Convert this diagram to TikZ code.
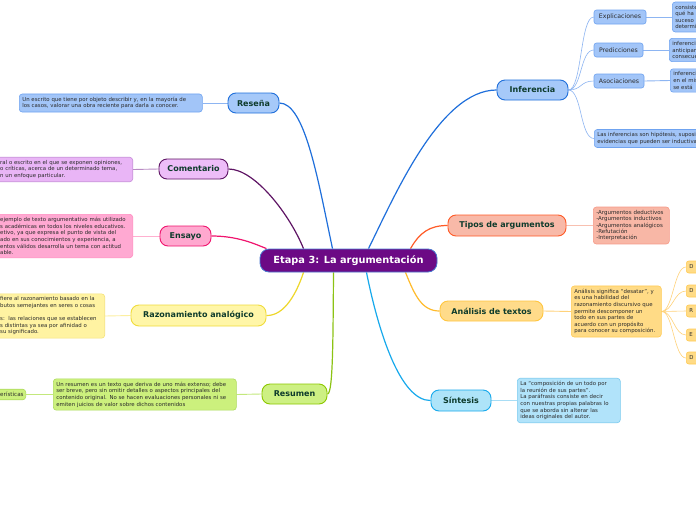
\documentclass[tikz,border=0pt]{standalone}
\usepackage{fontspec}
\setmainfont{DejaVu Sans}
\definecolor{centerfill}{HTML}{6C0A85}
\definecolor{centerdraw}{HTML}{4A78D0}
\definecolor{labtext}{HTML}{0E3B2C}
\definecolor{desctext}{HTML}{2B2B2B}
\definecolor{bluedraw}{HTML}{1F6FDB}
\definecolor{bluefill}{HTML}{A6C9F9}
\definecolor{bluesub}{HTML}{A2C5F8}
\definecolor{bluesubdraw}{HTML}{6FA3F0}
\definecolor{bluethin}{HTML}{8DB5F2}
\definecolor{purpledraw}{HTML}{5E1464}
\definecolor{purplefill}{HTML}{EDBDF8}
\definecolor{purplesub}{HTML}{E9B5F6}
\definecolor{purplesubdraw}{HTML}{C58AD8}
\definecolor{purplethin}{HTML}{B98CC4}
\definecolor{pinkdraw}{HTML}{F0146E}
\definecolor{pinkfill}{HTML}{FFA8CF}
\definecolor{pinksub}{HTML}{FFA9D2}
\definecolor{pinksubdraw}{HTML}{FF8CC0}
\definecolor{pinkthin}{HTML}{FFB0D0}
\definecolor{yellowdraw}{HTML}{EED72A}
\definecolor{yellowlab}{HTML}{F0DC3C}
\definecolor{yellowfill}{HTML}{FFF6A8}
\definecolor{yellowsub}{HTML}{FFF3A2}
\definecolor{yellowsubdraw}{HTML}{F5E27A}
\definecolor{yellowthin}{HTML}{FCEFA0}
\definecolor{greendraw}{HTML}{8CC314}
\definecolor{greenlab}{HTML}{8CC800}
\definecolor{greenfill}{HTML}{CDF083}
\definecolor{greensub}{HTML}{CCF07D}
\definecolor{greensubdraw}{HTML}{AEDB5E}
\definecolor{greenthin}{HTML}{C3E87C}
\definecolor{cyandraw}{HTML}{17A9EC}
\definecolor{cyanfill}{HTML}{AEE4F9}
\definecolor{cyansub}{HTML}{B1E3FA}
\definecolor{cyansubdraw}{HTML}{7CCBEF}
\definecolor{cyanthin}{HTML}{A8DDF5}
\definecolor{reddraw}{HTML}{FF5A26}
\definecolor{redfill}{HTML}{F8B9A8}
\definecolor{redsub}{HTML}{F8B7A6}
\definecolor{redsubdraw}{HTML}{F69A88}
\definecolor{redthin}{HTML}{F8C0B0}
\definecolor{orangedraw}{HTML}{FFBB2C}
\definecolor{orangelab}{HTML}{FFC640}
\definecolor{orangefill}{HTML}{FFDB8A}
\definecolor{orangesub}{HTML}{FFDB86}
\definecolor{orangesubdraw}{HTML}{FFCB55}
\definecolor{orangethin}{HTML}{FFD27A}
\pgfdeclarelayer{bg}
\pgfsetlayers{bg,main}
\begin{document}
\begin{tikzpicture}[x=1pt,y=-1pt,
  lab/.style={rounded corners=8pt, line width=0.9pt, inner sep=0pt,
    font=\bfseries\fontsize{8}{9}\selectfont, text=labtext},
  sublab/.style={rounded corners=2.5pt, line width=0.6pt, inner sep=0pt,
    font=\fontsize{6.2}{7}\selectfont, text=desctext},
  desc/.style={rounded corners=3pt, line width=0.6pt, inner sep=3pt, align=left,
    font=\fontsize{5.4}{6.6}\selectfont, text=desctext},
  anlab/.style={sublab, fill=orangesub, draw=orangesubdraw, anchor=west,
    minimum width=30pt, minimum height=12pt, align=left, text width=24pt,
    font=\fontsize{5.4}{6}\selectfont},
  br/.style={line width=1.2pt},
  tw/.style={line width=0.9pt},
  thin/.style={line width=0.6pt}]
\useasboundingbox (0,0) rectangle (696,520);
\begin{scope}
\clip (0,0) rectangle (696,520);
% centre
\node[lab, fill=centerfill, draw=centerdraw, line width=0.8pt, text=white,
  font=\bfseries\fontsize{9.8}{11}\selectfont, minimum width=177pt,
  minimum height=23pt, rounded corners=9pt] (center) at (348.5,260.5) {Etapa 3: La argumentación};
% Inferencia
\node[lab, fill=bluefill, draw=bluedraw, minimum width=71pt, minimum height=20pt] (inf) at (532.5,90) {Inferencia};
\node[sublab, fill=bluesub, draw=bluesubdraw, minimum width=52pt, minimum height=14pt] (expl) at (620,17) {Explicaciones};
\node[sublab, fill=bluesub, draw=bluesubdraw, minimum width=49pt, minimum height=14pt] (pred) at (618.5,50) {Predicciones};
\node[sublab, fill=bluesub, draw=bluesubdraw, minimum width=50pt, minimum height=14pt] (asoc) at (619,81) {Asociaciones};
\node[desc, fill=bluesub, draw=bluesubdraw, anchor=west, text width=60pt] (expln) at (672,17) {consiste\\qué ha\\suceso\\determinado};
\node[desc, fill=bluesub, draw=bluesubdraw, anchor=west, text width=60pt] (predn) at (669,50) {inferencias\\anticipan\\consecuencias};
\node[desc, fill=bluesub, draw=bluesubdraw, anchor=west, text width=60pt] (asocn) at (670,80.5) {inferencias\\en el mismo\\se está};
\node[desc, fill=bluesub, draw=bluesubdraw, anchor=west, text width=200pt] (infn) at (594,138.5) {Las inferencias son hipótesis, suposiciones\\evidencias que pueden ser inductivas};
% Reseña
\node[lab, fill=bluefill, draw=bluedraw, minimum width=51pt, minimum height=20pt] (res) at (253.5,103) {Reseña};
\node[desc, fill=bluesub, draw=bluesubdraw, anchor=west, text width=177pt] (resn) at (19,103)
  {\mbox{Un escrito que tiene por objeto describir y, en la mayoría de}\\\mbox{los casos, valorar una obra reciente para darla a conocer.}};
% Comentario
\node[lab, fill=purplefill, draw=purpledraw, minimum width=69pt, minimum height=20pt] (com) at (193.5,169) {Comentario};
\node[desc, fill=purplesub, draw=purplesubdraw, anchor=east, text width=129.5pt] (comn) at (133,169.5)
  {\mbox{ral o escrito en el que se exponen opiniones,}\\\mbox{o críticas, acerca de un determinado tema,}\\\mbox{n un enfoque particular.}};
% Ensayo
\node[lab, fill=pinkfill, draw=pinkdraw, minimum width=51pt, minimum height=20pt] (ens) at (185.5,236) {Ensayo};
\node[desc, fill=pinksub, draw=pinksubdraw, anchor=east, text width=129.5pt] (ensn) at (133,236)
  {\mbox{ejemplo de texto argumentativo más utilizado}\\\mbox{s académicas en todos los niveles educativos.}\\\mbox{etivo, ya que expresa el punto de vista del}\\\mbox{ado en sus conocimientos y experiencia, a}\\\mbox{entos válidos desarrolla un tema con actitud}\\\mbox{able.}};
% Razonamiento analógico
\node[lab, fill=yellowfill, draw=yellowlab, minimum width=135pt, minimum height=21pt] (raz) at (198.5,315.5) {Razonamiento analógico};
\node[desc, fill=yellowsub, draw=yellowsubdraw, anchor=east, text width=101.5pt] (razn) at (105,316)
  {\mbox{fiere al razonamiento basado en la}\\\mbox{butos semejantes en seres o cosas}\\\mbox{}\\\mbox{s:\ \ las relaciones que se establecen}\\\mbox{s distintas ya sea por afinidad o}\\\mbox{su significado.}};
% Resumen
\node[lab, fill=greenfill, draw=greenlab, minimum width=65pt, minimum height=20pt] (resu) at (294.5,394) {Resumen};
\node[desc, fill=greensub, draw=greensubdraw, anchor=west, text width=177pt] (resun) at (53,394.5)
  {\mbox{Un resumen es un texto que deriva de uno más extenso; debe}\\\mbox{ser breve, pero sin omitir detalles o aspectos principales del}\\\mbox{contenido original. No se hacen evaluaciones personales ni se}\\\mbox{emiten juicios de valor sobre dichos contenidos}};
\node[desc, fill=greensub, draw=greensubdraw, anchor=east, text width=22.5pt, font=\fontsize{5.6}{6.6}\selectfont] (car) at (26,394.5) {\mbox{erísticas}};
% Síntesis
\node[lab, fill=cyanfill, draw=cyandraw, minimum width=60pt, minimum height=21pt] (sin) at (461,400.5) {Síntesis};
\node[desc, fill=cyansub, draw=cyansubdraw, anchor=west, text width=97pt] (sinn) at (517,400.5)
  {\mbox{La “composición de un todo por}\\\mbox{la reunión de sus partes”.}\\\mbox{La paráfrasis consiste en decir}\\\mbox{con nuestras propias palabras lo}\\\mbox{que se aborda sin alterar las}\\\mbox{ideas originales del autor.}};
% Tipos de argumentos
\node[lab, fill=redfill, draw=reddraw, minimum width=118pt, minimum height=21pt] (tip) at (507,225.5) {Tipos de argumentos};
\node[desc, fill=redsub, draw=redsubdraw, anchor=west, text width=70pt, font=\fontsize{5.5}{6.4}\selectfont] (tipn) at (593,225.5)
  {\mbox{-Argumentos deductivos}\\\mbox{-Argumentos inductivos}\\\mbox{-Argumentos analógicos}\\\mbox{-Refutación}\\\mbox{-Interpretación}};
% Análisis de textos
\node[lab, fill=orangefill, draw=orangelab, minimum width=103pt, minimum height=20pt] (ana) at (491.5,311) {Análisis de textos};
\node[desc, fill=orangesub, draw=orangesubdraw, anchor=west, text width=84pt] (anan) at (571,311.5)
  {\mbox{Análisis significa “desatar”, y}\\\mbox{es una habilidad del}\\\mbox{razonamiento discursivo que}\\\mbox{permite descomponer un}\\\mbox{todo en sus partes de}\\\mbox{acuerdo con un propósito}\\\mbox{para conocer su composición.}};
\node[anlab] (a1) at (686,267) {D};
\node[anlab] (a2) at (686,291) {D};
\node[anlab] (a3) at (686,311) {R};
\node[anlab] (a4) at (686,335) {E};
\node[anlab] (a5) at (686,358) {D};
\end{scope}
\begin{pgfonlayer}{bg}
\fill[white] (0,0) rectangle (696,520);
% main branches
\draw[br, bluedraw] ([xshift=20pt]center.north) .. controls (395,195) and (440,90) .. (inf.west);
\draw[br, bluedraw] (res.east) .. controls (305,103) and (318,180) .. ([xshift=-16pt]center.north);
\draw[br, purpledraw] (com.east) .. controls (255,169) and (290,215) .. ([xshift=-45pt]center.north);
\draw[br, pinkdraw] (ens.east) .. controls (238,236) and (255,244) .. ([xshift=-82pt]center.north);
\draw[br, yellowdraw] (raz.east) .. controls (285,316) and (297,292) .. ([xshift=-45pt]center.south);
\draw[br, greendraw] ([xshift=-15pt]center.south) .. controls (333,340) and (333,394) .. (resu.east);
\draw[br, cyandraw] ([xshift=18pt]center.south) .. controls (378,330) and (400,401) .. (sin.west);
\draw[br, reddraw] ([xshift=62pt]center.north) .. controls (420,232) and (430,225.5) .. (tip.west);
\draw[br, orangedraw] ([xshift=57pt]center.south) .. controls (415,296) and (422,311) .. (ana.west);
% Inferencia children
\draw[thin, bluethin] (inf.east) .. controls (582,90) and (580,17) .. (expl.west);
\draw[thin, bluethin] (inf.east) .. controls (582,90) and (580,50) .. (pred.west);
\draw[thin, bluethin] (inf.east) .. controls (582,90) and (580,81) .. (asoc.west);
\draw[thin, bluethin] (inf.east) .. controls (582,90) and (580,138.5) .. (infn.west);
\draw[tw, bluethin] (expl.east) -- (expln.west);
\draw[tw, bluethin] (pred.east) -- (predn.west);
\draw[tw, bluethin] (asoc.east) -- (asocn.west);
% notes
\draw[tw, bluethin] (resn.east) -- (res.west);
\draw[tw, purplethin] (comn.east) -- (com.west);
\draw[tw, pinkthin] (ensn.east) -- (ens.west);
\draw[tw, yellowthin] (razn.east) -- (raz.west);
\draw[tw, greenthin] (resun.east) -- (resu.west);
\draw[tw, greenthin] (car.east) -- (resun.west);
\draw[tw, cyanthin] (sin.east) -- (sinn.west);
\draw[tw, redthin] (tip.east) -- (tipn.west);
\draw[tw, orangethin] (ana.east) -- (anan.west);
% Análisis children
\draw[thin, orangethin] (anan.east) .. controls (673,311) and (674,267) .. (a1.west);
\draw[thin, orangethin] (anan.east) .. controls (673,311) and (674,291) .. (a2.west);
\draw[thin, orangethin] (anan.east) -- (a3.west);
\draw[thin, orangethin] (anan.east) .. controls (673,311) and (674,335) .. (a4.west);
\draw[thin, orangethin] (anan.east) .. controls (673,311) and (674,358) .. (a5.west);
\end{pgfonlayer}
\end{tikzpicture}
\end{document}
